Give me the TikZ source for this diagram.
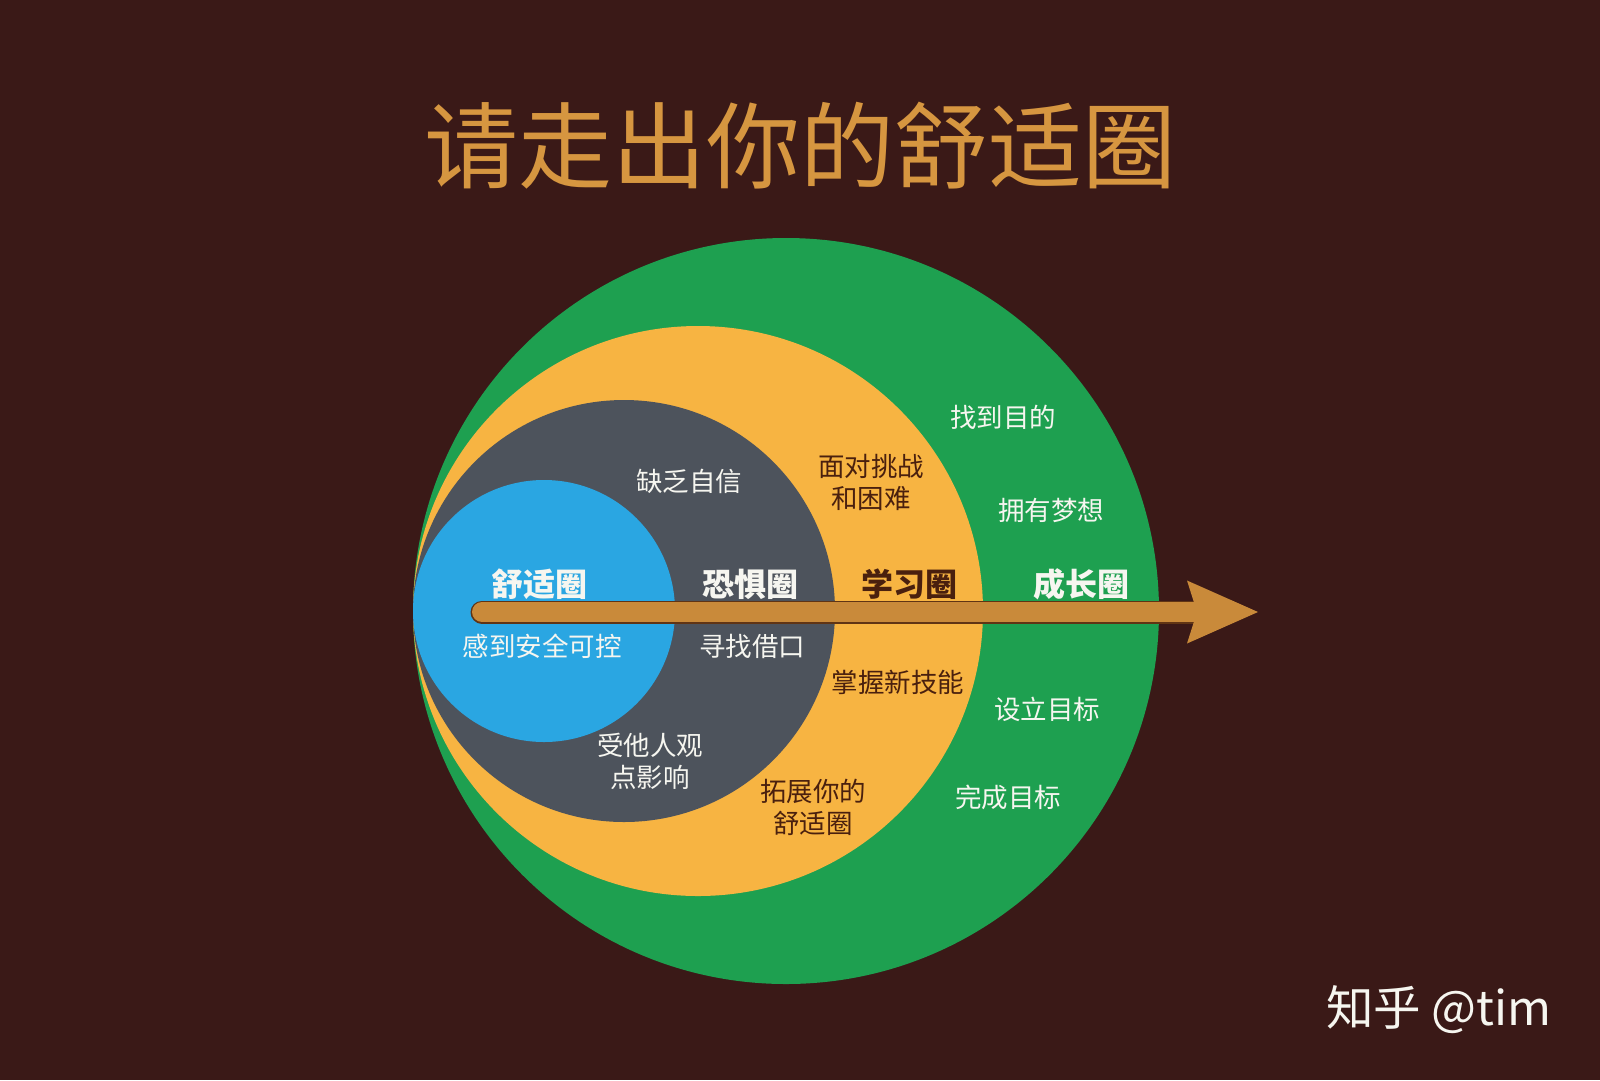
\documentclass[tikz,border=0pt]{standalone}
\usepackage{fontspec}
\setmainfont{Noto Sans CJK SC}
\usetikzlibrary{arrows.meta,positioning}
\definecolor{bgbrown}{RGB}{58,25,23}
\definecolor{growgreen}{RGB}{30,160,80}
\definecolor{learnorange}{RGB}{247,180,66}
\definecolor{feargrey}{RGB}{77,83,92}
\definecolor{comfortblue}{RGB}{42,166,226}
\definecolor{titlegold}{RGB}{214,150,64}
\definecolor{arrowgold}{RGB}{201,138,58}
\definecolor{arrowrim}{RGB}{96,52,20}
\definecolor{browntext}{RGB}{74,32,14}
\definecolor{paletext}{RGB}{246,246,240}
\tikzset{
  zone/.style={circle, draw=none, inner sep=0pt, outer sep=0pt},
  ringname/.style={font=\fontsize{32}{36}\selectfont\bfseries, inner sep=0pt},
  note/.style={font=\fontsize{26.5}{32}\selectfont, align=center, inner sep=0pt},
  growarrow/.style={line width=20pt, draw=arrowgold, line cap=round,
                    -{Stealth[length=71pt, width=63pt, inset=10pt, line width=0pt]}},
  shaftrim/.style={line width=23pt, draw=arrowrim, line cap=round, shorten >=62pt},
}

\begin{document}
\begin{tikzpicture}[x=1pt,y=-1pt,
  % the four zones touch at the left point (413,611); radius grows outwards
  lightnote/.style={note, text=paletext},
  darknote/.style={note, text=browntext},
]

\useasboundingbox (0,0) rectangle (1600,1080);
\fill[bgbrown] (0,0) rectangle (1600,1080);

% ================= heading =================
\node[font=\fontsize{94}{100}\selectfont, text=titlegold, inner sep=0pt] (title) at (800,146)
  {请走出你的舒适圈};

% ================= zones, outer to inner =================
\node[zone, fill=growgreen,   minimum size=746pt] (growth)  at (786,611) {};
\node[zone, fill=learnorange, minimum size=570pt] (learn)   at (698,611) {};
\node[zone, fill=feargrey,    minimum size=422pt] (fear)    at (624,611) {};
\node[zone, fill=comfortblue, minimum size=262pt] (comfort) at (544,611) {};

% ================= arrow across the zones =================
\coordinate (tail) at (482,612);
\coordinate (tip)  at (1258,612);
\draw[shaftrim]  (tail) -- (tip);
\draw[growarrow] (tail) -- (tip);

% ================= zone names =================
\node[ringname, text=paletext]  (comfortname) at (539,584) {舒适圈};
\node[ringname, text=paletext]  (fearname)    at (750,584) {恐惧圈};
\node[ringname, text=browntext] (learnname)   at (909,584) {学习圈};
\node[ringname, text=paletext]  (growname)    at (1081,584) {成长圈};

% ================= comfort zone =================
\node[lightnote] (safe) at (542,646) {感到安全可控};

% ================= fear zone =================
\node[lightnote] (noconf)  at (689,481) {缺乏自信};
\node[lightnote] (excuse)  at (752,646) {寻找借口};
\node[lightnote] (others)  at (650,761) {受他人观\\点影响};

% ================= learning zone =================
\node[darknote] (challenge) at (871,482) {面对挑战\\和困难};
\node[darknote] (skills)    at (898,682) {掌握新技能};
\node[darknote] (expand)    at (813,807) {拓展你的\\舒适圈};

% ================= growth zone =================
\node[lightnote] (purpose) at (1003,417) {找到目的};
\node[lightnote] (dream)   at (1051,510) {拥有梦想};
\node[lightnote] (setgoal) at (1047,709) {设立目标};
\node[lightnote] (reach)   at (1008,797) {完成目标};

% ================= watermark =================
\node[font=\fontsize{47.5}{52}\selectfont, text=paletext, inner sep=0pt] (mark) at (1439,1010)
  {知乎 @tim};

\end{tikzpicture}
\end{document}
